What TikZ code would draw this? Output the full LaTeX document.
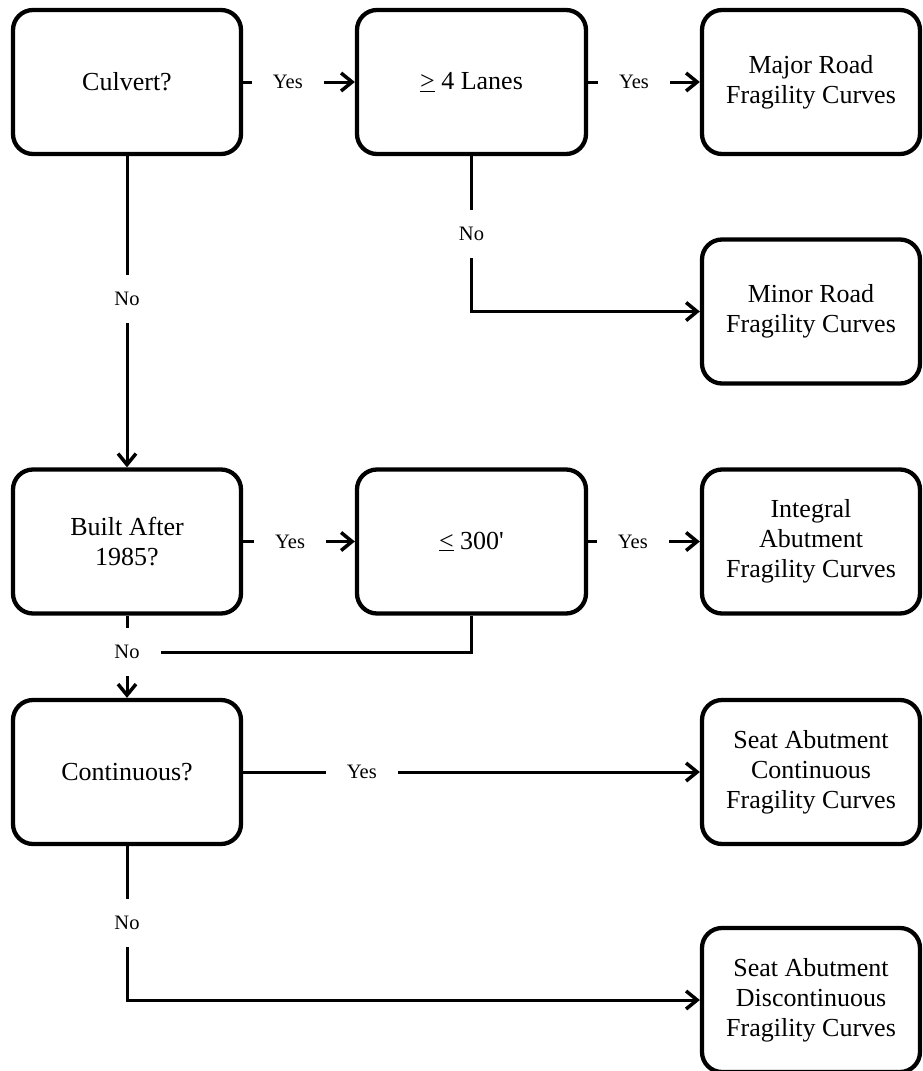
\documentclass[tikz,border=0pt]{standalone}
\usepackage{fontspec}
\setmainfont{Liberation Serif}
\usetikzlibrary{arrows.meta}
\begin{document}
\begin{tikzpicture}[x=1pt,y=-1pt,
  box/.style={draw, line width=4.3pt, rounded corners=20pt, align=center,
    font=\fontsize{26}{30}\selectfont, inner sep=0pt, minimum height=144pt},
  c1/.style={box, minimum width=228pt},
  c2/.style={box, minimum width=229pt},
  c3/.style={box, minimum width=218pt},
  conn/.style={line width=3pt},
  arr/.style={conn, -{Straight Barb[length=11pt,width=18pt,line width=3.5pt]}},
  lbl/.style={fill=white, font=\fontsize{20.5}{24}\selectfont, inner xsep=21pt, inner ysep=17pt}]
\useasboundingbox (0,0) rectangle (923,1071);

\node[c1] (culvert)  at (127,82)    {Culvert?};
\node[c2] (lanes)    at (471.5,82)  {\underline{>} 4 Lanes};
\node[c3] (major)    at (811,82)    {Major Road\\Fragility Curves};
\node[c3] (minor)    at (811,311.5) {Minor Road\\Fragility Curves};
\node[c1] (built)    at (127,541.5) {Built After\\1985?};
\node[c2] (len)      at (471.5,541.5) {\underline{<} 300\textquotesingle};
\node[c3] (integral) at (811,541.5) {Integral\\Abutment\\Fragility Curves};
\node[c1] (cont)     at (127,772)   {Continuous?};
\node[c3] (seatc)    at (811,772)   {Seat Abutment\\Continuous\\Fragility Curves};
\node[c3] (seatd)    at (811,1000)  {Seat Abutment\\Discontinuous\\Fragility Curves};

\draw[arr] (culvert) -- node[lbl,pos=0.4]{Yes} (lanes);
\draw[arr] (lanes) -- node[lbl,pos=0.41]{Yes} (major);
\draw[arr] (culvert) -- node[lbl,pos=0.46]{No} (built);
\draw[arr] (lanes) |- node[lbl,pos=0.25]{No} (minor);
\draw[arr] (built) -- node[lbl,pos=0.42]{Yes} (len);
\draw[arr] (len) -- node[lbl,pos=0.4]{Yes} (integral);

\node[lbl] (no2) at (127,652) {No};
\draw[conn] (built) -- (no2);
\draw[arr] (no2) -- (cont);
\draw[conn] (len) |- (no2);

\draw[arr] (cont) -- node[lbl,pos=0.26]{Yes} (seatc);
\draw[arr] (cont) |- node[lbl,pos=0.25]{No} (seatd);
\end{tikzpicture}
\end{document}
